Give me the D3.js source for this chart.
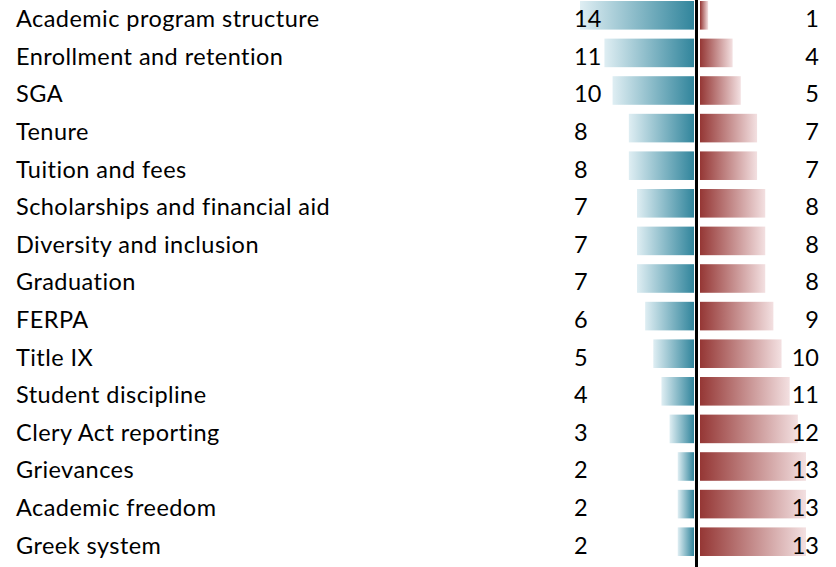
<!DOCTYPE html>
<html><head><meta charset="utf-8">
<script src="https://cdn.jsdelivr.net/npm/d3@7"></script>
<style>body{margin:0;background:#fff}</style>
</head><body><svg id="c" width="836" height="567"></svg>
<script>
const categories = ["Academic program structure","Enrollment and retention","SGA","Tenure","Tuition and fees","Scholarships and financial aid","Diversity and inclusion","Graduation","FERPA","Title IX","Student discipline","Clery Act reporting","Grievances","Academic freedom","Greek system"];
const leftValues = [14,11,10,8,8,7,7,7,6,5,4,3,2,2,2];
const rightValues = [1,4,5,7,7,8,8,8,9,10,11,12,13,13,13];

const svg = d3.select("#c");
const font = "Lato, 'Open Sans', sans-serif";
const fs = 23.5;
const defs = svg.append("defs");
const gb = defs.append("linearGradient").attr("id","gb").attr("x1","0").attr("x2","1");
gb.append("stop").attr("offset","0").attr("stop-color","#dfeef3");
gb.append("stop").attr("offset","1").attr("stop-color","#31859c");
const gr = defs.append("linearGradient").attr("id","gr").attr("x1","0").attr("x2","1");
gr.append("stop").attr("offset","0").attr("stop-color","#953735");
gr.append("stop").attr("offset","1").attr("stop-color","#f3e0e1");

const y = d3.scaleBand().domain(categories).range([-3.5, 567-3.5-3]).paddingInner(0.24).paddingOuter(0.12);
const xl = d3.scaleLinear().domain([0,14]).range([694,580]);
const xr = d3.scaleLinear().domain([0,13]).range([700,806]);

categories.forEach((c,i)=>{
  const yc = y(c) + y.bandwidth()/2 + 3.5;
  svg.append("text").attr("x",16).attr("y",yc).attr("dy","0.36em")
    .attr("font-family",font).attr("font-size",fs).attr("letter-spacing","0.45px").text(c);
  svg.append("rect").attr("x",xl(leftValues[i])).attr("y",y(c))
    .attr("width",xl(0)-xl(leftValues[i])).attr("height",y.bandwidth()).attr("fill","url(#gb)");
  svg.append("rect").attr("x",xr(0)).attr("y",y(c))
    .attr("width",xr(rightValues[i])-xr(0)).attr("height",y.bandwidth()).attr("fill","url(#gr)");
  svg.append("text").attr("x",574).attr("y",yc).attr("dy","0.36em")
    .attr("font-family",font).attr("font-size",fs).text(leftValues[i]);
  svg.append("text").attr("x",819).attr("y",yc).attr("dy","0.36em").attr("text-anchor","end")
    .attr("font-family",font).attr("font-size",fs).text(rightValues[i]);
});
svg.append("line").attr("x1",696.5).attr("x2",696.5).attr("y1",0).attr("y2",567)
  .attr("stroke","#000").attr("stroke-width",3);
</script></body></html>
